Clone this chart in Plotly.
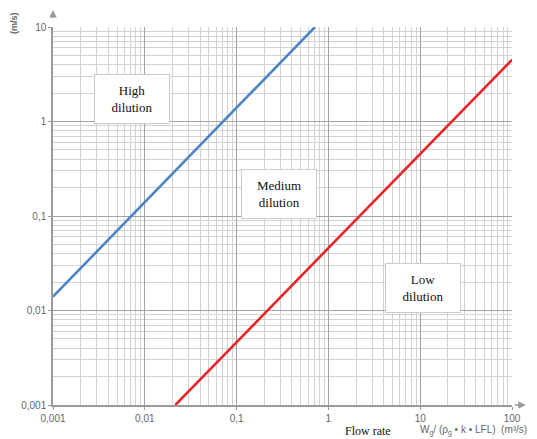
import math
import plotly.graph_objects as go

# Data
blue_x = [0.001, 0.714]
blue_y = [0.014, 10]
red_x = [0.0215, 100]
red_y = [0.001, 4.5]

tick_vals = [0.001, 0.01, 0.1, 1, 10, 100]
tick_text = ["0,001", "0,01", "0,1", "1", "10", "100"]
ytick_vals = [0.001, 0.01, 0.1, 1, 10]
ytick_text = ["0,001", "0,01", "0,1", "1", "10"]

labels = [("High<br>dilution", 0.0072, 1.72),
          ("Medium<br>dilution", 0.29, 0.173),
          ("Low<br>dilution", 10.8, 0.0173)]

minor_x = [k * 10 ** e for e in range(-3, 2) for k in range(2, 10)]
minor_y = [k * 10 ** e for e in range(-3, 1) for k in range(2, 10)]

fig = go.Figure()
fig.add_trace(go.Scatter(x=blue_x, y=blue_y, mode="lines",
                         line=dict(color="#4d84c4", width=2.6), showlegend=False))
fig.add_trace(go.Scatter(x=red_x, y=red_y, mode="lines",
                         line=dict(color="#e5262b", width=2.6), showlegend=False))

axis_common = dict(type="log", showline=True, linecolor="#9a9a9a", linewidth=1.5,
                   showgrid=True, gridcolor="#a3a3a3", gridwidth=1, zeroline=False,
                   ticks="outside", ticklen=3, tickcolor="#9a9a9a", automargin=False,
                   tickfont=dict(family="Liberation Sans, Arial", size=10, color="#666"))

fig.update_xaxes(**axis_common, range=[-3, 2], tickvals=tick_vals, ticktext=tick_text,
                 minor=dict(tickvals=minor_x, showgrid=True, gridcolor="#d2d2d2", ticks=""))
fig.update_yaxes(**axis_common, range=[-3, 1], tickvals=ytick_vals, ticktext=ytick_text,
                 minor=dict(tickvals=minor_y, showgrid=True, gridcolor="#d2d2d2", ticks=""))

for txt, x, y in labels:
    fig.add_annotation(x=math.log10(x), y=math.log10(y), xref="x", yref="y", text=txt,
                       showarrow=False,
                       font=dict(family="Liberation Serif, Times New Roman", size=13, color="#111"),
                       bgcolor="white", bordercolor="#c8ccd4", borderwidth=1,
                       borderpad=8, width=58, align="center")

# axis arrows
fig.add_annotation(x=0, y=1.045, xref="paper", yref="paper", ax=0, ay=18,
                   showarrow=True, arrowhead=2, arrowsize=1, arrowwidth=1.5, arrowcolor="#9a9a9a")
fig.add_annotation(x=1.03, y=0, xref="paper", yref="paper", ax=-14, ay=0,
                   showarrow=True, arrowhead=2, arrowsize=1, arrowwidth=1.5, arrowcolor="#9a9a9a")

fig.add_annotation(x=-0.085, y=1.045, xref="paper", yref="paper", text="<b>(m/s)</b>", textangle=-90,
                   showarrow=False, xanchor="center", yanchor="top",
                   font=dict(family="Liberation Sans, Arial", size=9, color="#666"))
fig.add_annotation(x=0.686, y=-0.068, xref="paper", yref="paper", text="Flow rate",
                   showarrow=False, xanchor="center", yanchor="middle",
                   font=dict(family="Liberation Serif, Times New Roman", size=12, color="#111"))
fig.add_annotation(x=1.038, y=-0.068, xref="paper", yref="paper",
                   text="W<sub>g</sub>/ (ρ<sub>g</sub> • k • LFL)  (m³/s)",
                   showarrow=False, xanchor="right", yanchor="middle",
                   font=dict(family="Liberation Sans, Arial", size=10, color="#666"))

# the page body adds an 8px offset; compensate so the plot lands where the reference has it
fig.update_layout(width=529, height=431, margin=dict(l=45, r=25, t=19, b=34),
                  plot_bgcolor="white", paper_bgcolor="white")

fig.write_html("out.html")
